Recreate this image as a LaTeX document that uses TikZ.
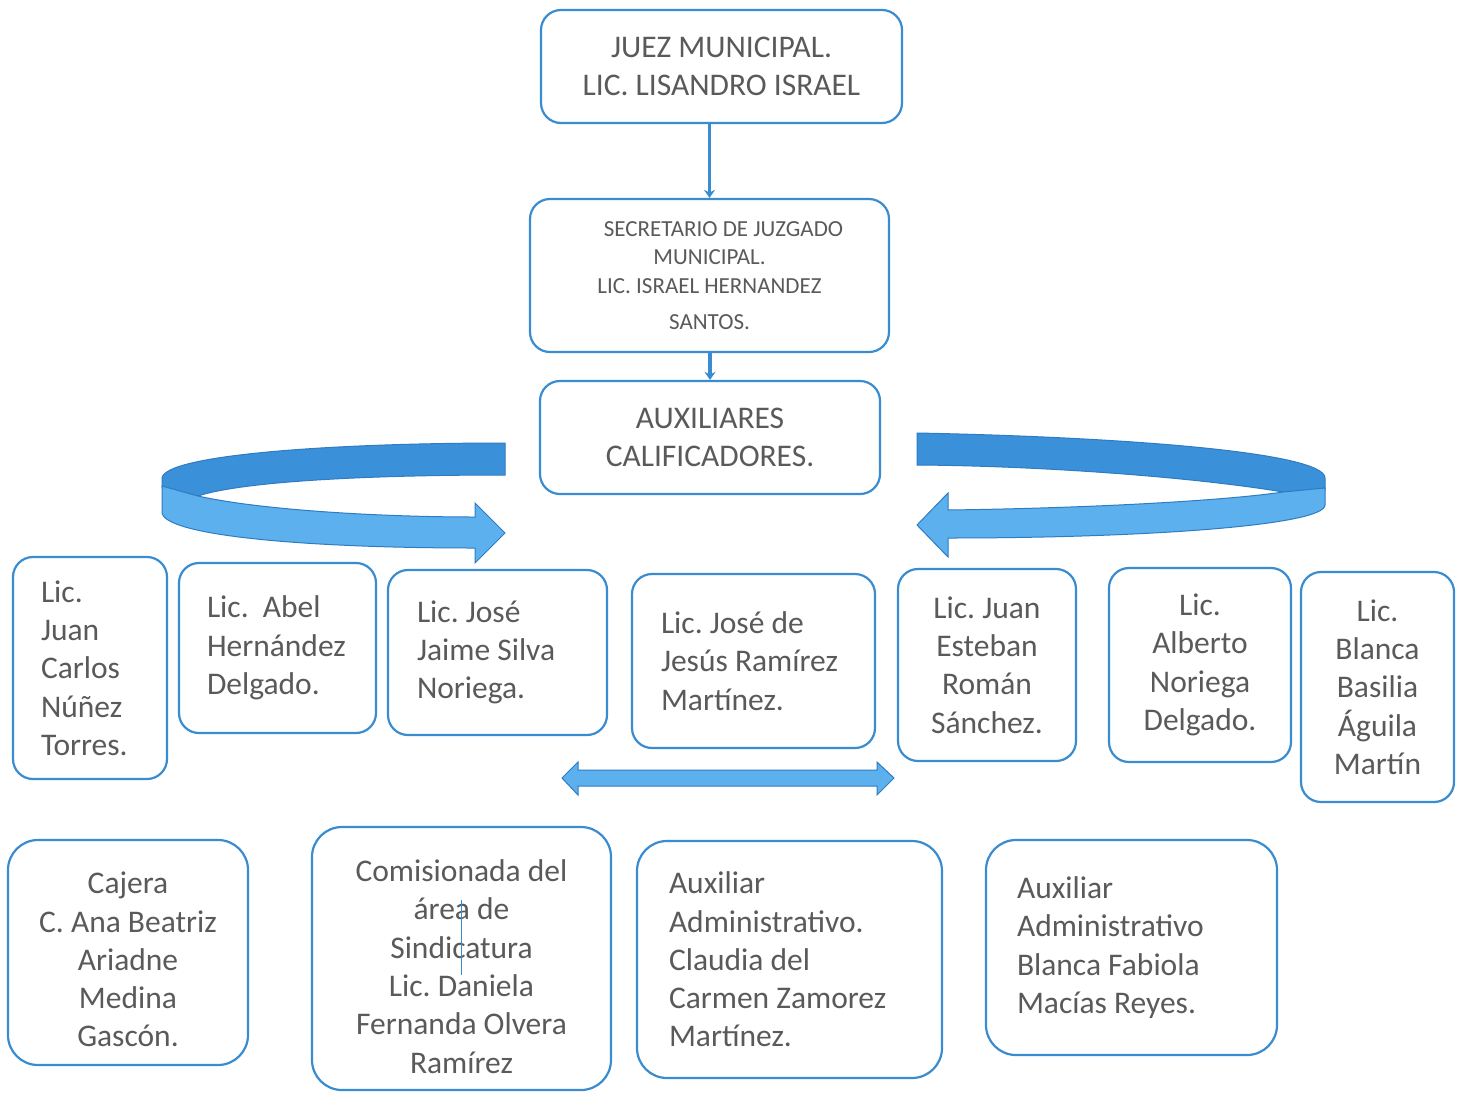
\documentclass[tikz,border=0pt]{standalone}
\usepackage{fontspec}
\setmainfont{Carlito}
\usetikzlibrary{arrows.meta}
\definecolor{boxblue}{HTML}{3A8CD0}
\definecolor{txtgray}{HTML}{5A5A5A}
\definecolor{darkband}{HTML}{3B90DA}
\definecolor{lightband}{HTML}{5CB0EE}
\definecolor{bandedge}{HTML}{2E7CC2}
\begin{document}
\begin{tikzpicture}[x=1pt,y=-1pt,
  box/.style={draw=boxblue, line width=2.2pt, rounded corners=20pt, fill=white, text=txtgray, inner ysep=0pt,
    font=\fontsize{31.5}{38.3}\selectfont,
    execute at begin node={\spaceskip=0pt\xspaceskip=0pt\frenchspacing}},
  lbox/.style={box, align=left},
  cbox/.style={box, align=center},
  bigbox/.style={rounded corners=30pt},
  conn/.style={draw=boxblue, line width=3.5pt, -{Stealth[length=8pt,width=11pt]}},
  darkrib/.style={fill=darkband, draw=bandedge, line width=1pt},
  lightrib/.style={fill=lightband, draw=bandedge, line width=1pt}]
\useasboundingbox[fill=white] (0,0) rectangle (1464,1093);

% top chain
\node[cbox, minimum width=361pt, minimum height=113pt] (juez) at (721.5,66.5) {JUEZ MUNICIPAL.\\LIC. LISANDRO ISRAEL};
\node[cbox, minimum width=359pt, minimum height=153pt, font=\fontsize{23}{28.5}\selectfont] (sec) at (709.5,275.5)
  {\hspace*{28pt}SECRETARIO DE JUZGADO\\MUNICIPAL.\\LIC. ISRAEL HERNANDEZ\\[8pt]SANTOS.};
\node[cbox, minimum width=340pt, minimum height=113pt] (aux) at (710,437.5) {AUXILIARES\\CALIFICADORES.};

\draw[conn] (sec.north |- juez.south) -- (sec.north);
\draw[conn] (aux.north |- sec.south) -- (aux.north);

% ribbon arrows
\path[darkrib] (505,443) -- (505,475) .. controls (360,475) and (240,482) .. (198,496) -- (162,488) -- (162,478) .. controls (165,455) and (330,443) .. (505,443) -- cycle;
\path[lightrib] (162,486) -- (198,496) .. controls (260,510) and (380,517) .. (475,517) -- (475,503) -- (505,533) -- (475,563) -- (475,548) .. controls (300,548) and (162,535) .. (162,512) -- cycle;

\path[darkrib] (917,433) .. controls (1120,437) and (1325,452) .. (1325,478) -- (1325,490) -- (1283,492) .. controls (1200,478) and (1050,466) .. (917,465) -- cycle;
\path[lightrib] (1325,488) -- (1325,505) .. controls (1325,525) and (1150,538) .. (948,538) -- (948,557) -- (917,525) -- (948,493) -- (948,510) .. controls (1100,508) and (1230,500) .. (1283,492) -- cycle;

% row of Lic boxes
\node[lbox, minimum width=154pt, minimum height=222pt, text width=98pt, inner xsep=28pt] (a) at (90,668) {Lic.\\Juan\\Carlos\\Núñez\\Torres.};
\node[lbox, minimum width=197pt, minimum height=170pt, text width=141pt, inner xsep=28pt] (b) at (277.5,648) {Lic.\ \ Abel\\Hernández\\Delgado.};
\node[lbox, minimum width=219pt, minimum height=165pt, text width=161pt, inner xsep=29pt] (c) at (497.5,652.5) {Lic. José\\Jaime Silva\\Noriega.};
\node[lbox, minimum width=243pt, minimum height=174pt, text width=185pt, inner xsep=29pt] (d) at (753.5,661) {Lic. José de\\Jesús Ramírez\\Martínez.};
\node[cbox, minimum width=178pt, minimum height=192pt] (e) at (987,665) {Lic. Juan\\Esteban\\Román\\Sánchez.};
\node[cbox, minimum width=182pt, minimum height=194pt] (f) at (1200,665) {Lic.\\Alberto\\Noriega\\Delgado.};
\node[cbox, minimum width=153pt, minimum height=230pt] (g) at (1377.5,687) {Lic.\\Blanca\\Basilia\\Águila\\Martín};

% double arrow
\path[lightrib] (562,778) -- (578,762) -- (578,770) -- (877,770) -- (877,762) -- (894,778) -- (877,795) -- (877,786) -- (578,786) -- (578,795) -- cycle;

% bottom row
\node[cbox, bigbox, minimum width=240pt, minimum height=225pt] (h) at (128,952.5) {\rule{0pt}{36pt}Cajera\\C. Ana Beatriz\\Ariadne\\Medina\\Gascón.};
\node[cbox, bigbox, minimum width=299pt, minimum height=263pt] (i) at (461.5,958.5) {\rule{0pt}{38pt}Comisionada del\\área de\\Sindicatura\\Lic. Daniela\\Fernanda Olvera\\Ramírez};
\draw[boxblue, line width=0.8pt] (461,900) -- (461,975);
\node[lbox, bigbox, minimum width=305pt, minimum height=237pt, text width=241pt, inner xsep=32pt] (j) at (789.5,959.5) {Auxiliar\\Administrativo.\\Claudia del\\Carmen Zamorez\\Martínez.};
\node[lbox, bigbox, minimum width=291pt, minimum height=215pt, text width=229pt, inner xsep=31pt] (k) at (1131.5,947.5) {Auxiliar\\Administrativo\\Blanca Fabiola\\Macías Reyes.};
\end{tikzpicture}
\end{document}
